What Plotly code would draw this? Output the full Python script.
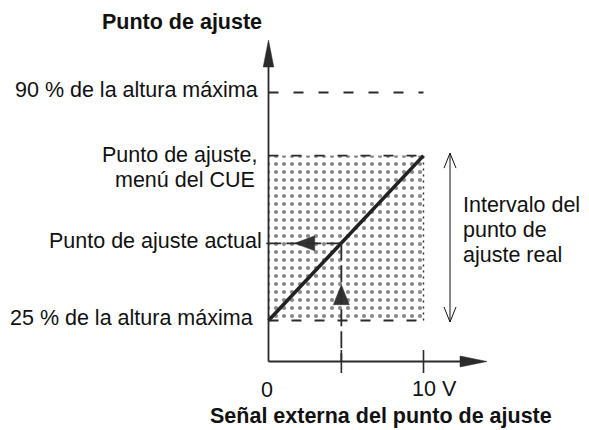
import plotly.graph_objects as go

# ---------------- data ----------------
signal_volts = [0, 10]            # external set-point signal range (V)
setpoint_pct = [25, 72]           # set point at 0 V and at 10 V (% of max height)
max_height_pct = 90               # upper dashed level (% of max height)
example_signal = 4.7              # example external signal (V)
example_setpoint = 47             # resulting actual set point (%)
x_tick_values = [0, 10]
x_tick_labels = ["0", "10 V"]
label_90 = "90 % de la altura máxima"
label_menu = ["Punto de ajuste,", "menú del CUE"]
label_actual = "Punto de ajuste actual"
label_25 = "25 % de la altura máxima"
label_range = ["Intervalo del", "punto de", "ajuste real"]
y_title = "Punto de ajuste"
x_title = "Señal externa del punto de ajuste"

# ---------------- layout helpers (page pixel <-> data) ----------------
PAGE_W, PAGE_H = 589, 430
OFF = 8                      # default body margin of the page
W, H = PAGE_W - OFF, PAGE_H - OFF
X0_PX, PX_PER_V = 268.5, 15.5
Y25_PX, PX_PER_PCT = 320.5, 3.508


def xd(px):
    return (px - X0_PX) / PX_PER_V


def yd(py):
    return 25 + (Y25_PX - py) / PX_PER_PCT


def dxp(px):
    return px / PX_PER_V


def dyp(px):
    return px / PX_PER_PCT


AX = "#2b2b2b"
FONT = "Liberation Sans, Arial, sans-serif"
FS = 21.5
y_axis_base = yd(361.5)

fig = go.Figure()

# dotted (stippled) region
x_lo, x_hi = signal_volts
y_lo, y_hi = setpoint_pct
fig.add_trace(go.Scatter(
    x=[x_lo, x_hi, x_hi, x_lo, x_lo], y=[y_lo, y_lo, y_hi, y_hi, y_lo],
    mode="lines", line=dict(width=0), fill="toself",
    fillcolor="white",
    fillpattern=dict(shape=".", size=8, solidity=0.22, fgcolor="#111111", bgcolor="white"),
    hoverinfo="skip"))

# characteristic line
fig.add_trace(go.Scatter(x=signal_volts, y=setpoint_pct, mode="lines",
                         line=dict(color="#222222", width=3.6), hoverinfo="skip"))

shapes = []


def seg(x0, y0, x1, y1, width=1.8, dash="solid", color=AX):
    shapes.append(dict(type="line", xref="x", yref="y", x0=x0, y0=y0, x1=x1, y1=y1,
                       line=dict(color=color, width=width, dash=dash)))


def tri(points, color=AX):
    xs = [p[0] for p in points] + [points[0][0]]
    ys = [p[1] for p in points] + [points[0][1]]
    fig.add_trace(go.Scatter(x=xs, y=ys, mode="lines", fill="toself", fillcolor=color,
                             line=dict(width=0.5, color=color), hoverinfo="skip"))


# axes
y_tip = yd(40)
x_tip = xd(487)
seg(0, y_axis_base, 0, yd(62))
seg(0, y_axis_base, xd(465), y_axis_base)
tri([(0, y_tip), (-dxp(5.3), yd(67)), (dxp(5.3), yd(67))])
tri([(x_tip, y_axis_base), (xd(460), y_axis_base + dyp(5.5)), (xd(460), y_axis_base - dyp(5.5))])

# tick at 10 V and at example signal
for xv in [x_tick_values[1], example_signal]:
    seg(xv, y_axis_base + dyp(11.5), xv, y_axis_base - dyp(11.5), width=1.6)

# dashed box edges
seg(0, y_hi, x_hi, y_hi, width=1.8, dash="10px,13px")
seg(0, y_lo, x_hi, y_lo, width=1.8, dash="10px,13px")
seg(x_hi, y_lo, x_hi, y_hi, width=1.4, dash="2px,4px")

# 90 % line
seg(0, max_height_pct, x_hi, max_height_pct, width=1.8, dash="10px,15px")

# example dashed lines
seg(example_signal, example_setpoint, xd(262), example_setpoint, width=1.8, dash="15px,5px")
seg(example_signal, example_setpoint, example_signal, y_axis_base, width=1.8, dash="17px,5px")

# arrow heads on the example lines
tipx = example_signal * 0.36
tri([(tipx, example_setpoint), (tipx + dxp(20), example_setpoint + dyp(7.5)),
     (tipx + dxp(20), example_setpoint - dyp(7.5))], color="#333333")
tipy = y_axis_base + (example_setpoint - y_axis_base) * 0.65
tri([(example_signal, tipy), (example_signal - dxp(8), tipy - dyp(20)),
     (example_signal + dxp(8), tipy - dyp(20))], color="#333333")

# double-headed range arrow (open heads)
xr = xd(450)
top = y_hi + dyp(2.5)
bot = y_lo - dyp(1.5)
seg(xr, bot, xr, top, width=1, color="#111111")
for xs in (-1, 1):
    seg(xr, top, xr + xs * dxp(6), top - dyp(15), width=1, color="#111111")
    seg(xr, bot, xr + xs * dxp(6), bot + dyp(15), width=1, color="#111111")

annotations = []


def txt(text, x, y, xanchor="center", yanchor="middle", xshift=0, yshift=0, bold=False):
    annotations.append(dict(
        text=f"<b>{text}</b>" if bold else text, x=x, y=y, xref="x", yref="y",
        xanchor=xanchor, yanchor=yanchor, xshift=xshift, yshift=yshift,
        showarrow=False, borderpad=0, borderwidth=0,
        font=dict(family=FONT, size=FS, color="#111111")))


txt(label_90, 0, max_height_pct, xanchor="right", xshift=-10.5, yshift=2)
txt(label_menu[0], 0, y_hi, xanchor="right", xshift=-11.5, yshift=1)
txt(label_menu[1], 0, y_hi, xanchor="right", xshift=-13.5, yshift=-24)
txt(label_actual, 0, example_setpoint, xanchor="right", xshift=-6.5, yshift=2.8)
txt(label_25, 0, y_lo, xanchor="right", xshift=-15.5, yshift=3)

txt(x_tick_labels[0], x_tick_values[0], yd(389.5), xshift=-1.5)
txt(x_tick_labels[1], x_tick_values[1], yd(388.5), xanchor="left", xshift=-11.5)

txt(y_title, 0, yd(21.5), xanchor="right", xshift=-6.5, bold=True)
txt(x_title, xd(381), yd(415.5), bold=True)

for i, line in enumerate(label_range):
    txt(line, xd(463), yd(204.5 + 25 * i), xanchor="left")

fig.update_layout(
    width=W, height=H, margin=dict(l=0, r=0, t=0, b=0),
    paper_bgcolor="white", plot_bgcolor="white", showlegend=False,
    xaxis=dict(range=[xd(OFF), xd(OFF + W)], visible=False, fixedrange=True),
    yaxis=dict(range=[yd(OFF + H), yd(OFF)], visible=False, fixedrange=True),
    shapes=shapes, annotations=annotations)

fig.write_html("out.html")
